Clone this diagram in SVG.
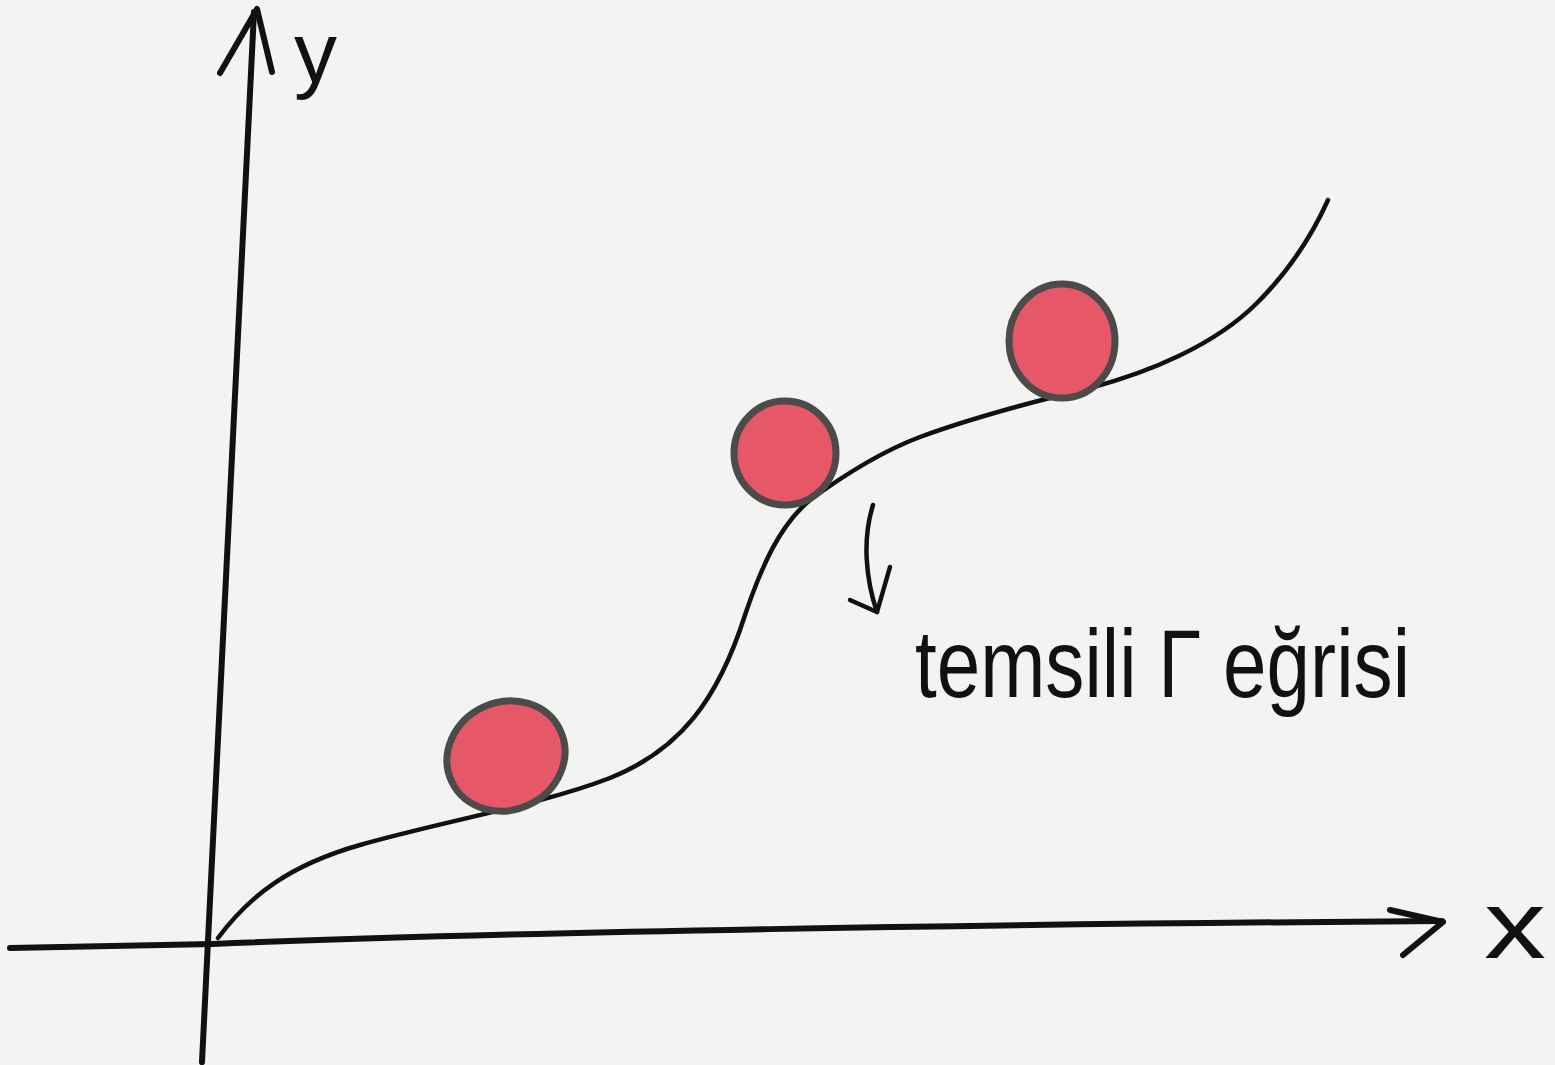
<svg xmlns="http://www.w3.org/2000/svg" width="1555" height="1065" viewBox="0 0 1555 1065">
<style>
.ink{fill:none;stroke:#111;stroke-linecap:round;stroke-linejoin:round}
.axis{stroke-width:6}
.thin{stroke-width:4.5}
.ball{fill:#e65868;stroke:#4d4a4a;stroke-width:7}
.lbl{font-family:"Liberation Sans",Arial,sans-serif;fill:#111}
</style>
<rect width="1555" height="1065" fill="#f3f3f1"/>
<g id="axes">
<path class="ink axis" d="M202,1062 C212,900 232,500 254,12"/>
<path class="ink axis" d="M220,73 L257,9 L272,72"/>
<path class="ink axis" d="M10,948 L213,944 C500,932 1000,924 1442,921"/>
<path class="ink axis" d="M1390,910 L1443,922 L1403,955"/>
</g>
<g id="axis-labels">
<text class="lbl" x="294" y="82" font-size="86">y</text>
<text class="lbl" x="1484" y="958" font-size="96" textLength="62" lengthAdjust="spacingAndGlyphs">x</text>
</g>
<g id="curve">
<path class="ink thin" d="M218,938 C250,895 290,865 360,845 C440,822 540,805 610,778 C680,750 718,700 745,615 C762,565 780,525 810,500 C840,478 880,452 920,437 C980,415 1040,400 1090,388 C1150,372 1215,345 1257,303 C1285,275 1310,240 1328,200"/>
</g>
<g id="ball-1"><ellipse class="ball" cx="506" cy="756" rx="60" ry="54" transform="rotate(-25 506 756)"/></g>
<g id="ball-2"><ellipse class="ball" cx="785" cy="453" rx="51" ry="52"/></g>
<g id="ball-3"><ellipse class="ball" cx="1062" cy="341" rx="53" ry="57"/></g>
<g id="connectors">
<path class="ink thin" d="M873,505 C862,540 866,580 877,612"/>
<path class="ink thin" d="M850,600 L877,612 L890,567"/>
</g>
<g id="label">
<text class="lbl" x="915" y="697" font-size="96" textLength="495" lengthAdjust="spacingAndGlyphs">temsili Γ eğrisi</text>
</g>
</svg>
